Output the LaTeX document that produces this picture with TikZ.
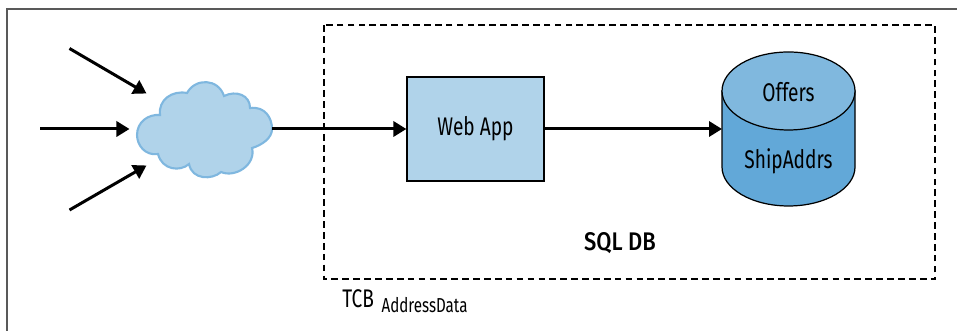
\documentclass[tikz,border=0pt]{standalone}
\usepackage{fontspec}
\setmainfont[FakeStretch=0.75]{Fira Sans}
\newfontfamily\sqlfont[FakeStretch=0.86]{Fira Sans Medium}
\usetikzlibrary{shapes.geometric,arrows.meta,positioning}
\definecolor{boxblue}{HTML}{B0D3EA}
\definecolor{cloudline}{HTML}{7FB7DF}
\definecolor{dbbody}{HTML}{62A8D8}
\definecolor{dbtop}{HTML}{80B8DE}
\tikzset{
  flow/.style={line width=1.7pt,-{Triangle[length=7.4pt,width=8.6pt]}},
  lbl/.style={font=\fontsize{14.5}{17}\selectfont,inner sep=0pt},
  appbox/.style={draw=black,line width=0.7pt,fill=boxblue,minimum width=2.74cm,minimum height=2.08cm,inner sep=0pt},
}
\begin{document}
\begin{tikzpicture}
%
\useasboundingbox (0,0) rectangle (19.14cm,6.62cm);
%
\draw[black!65,line width=1pt] (0.14,0) -- (0.14,6.44) -- (19.14,6.44);
\draw[line width=0.7pt,dash pattern=on 3.8pt off 2.4pt] (6.48,6.12) rectangle (18.7,1.04);
%
% cloud outline, in pixels of the image
\begin{scope}[x=0.02cm,y=-0.02cm,yshift=6.62cm]
\draw[draw=cloudline,line width=1.2pt,fill=boxblue]
  (160,115) .. controls (158,100) and (172,90) .. (187,93)
  .. controls (195,78) and (218,78) .. (224,96)
  .. controls (236,90) and (250,95) .. (250,108)
  .. controls (265,106) and (272,118) .. (272,129)
  .. controls (272,138) and (262,145) .. (252,148)
  .. controls (256,165) and (235,178) .. (221,172)
  .. controls (212,180) and (192,180) .. (189,164)
  .. controls (180,172) and (162,170) .. (158,154)
  .. controls (145,156) and (137,145) .. (137,135)
  .. controls (137,122) and (148,114) .. (160,115) -- cycle;
\coordinate (cloudeast) at (272,129);
\end{scope}
%
\node[appbox,lbl] (webapp) at (9.51,4.04) {Web App};
%
\node[minimum width=2.66cm,minimum height=1.52cm,inner sep=0pt,outer sep=0pt] (db) at (15.77,4.04) {};
\draw[line width=0.7pt,fill=dbbody] (db.north west) -- (14.44,3.28) arc[start angle=180,end angle=360,x radius=1.33,y radius=0.78] -- (db.north east) -- cycle;
\node[ellipse,draw=black,line width=0.7pt,fill=dbtop,minimum width=2.66cm,minimum height=1.56cm,inner sep=0pt] (dbend) at (15.77,4.8) {};
\node[lbl] (offers) at (15.77,4.78) {Offers};
\node[lbl] (shipaddrs) at (15.77,3.4) {ShipAddrs};
\node[lbl,font=\fontsize{14.5}{17}\selectfont\sqlfont] (sqldb) at (12.4,1.76) {SQL DB};
\node[lbl,anchor=base west] (tcb) at (6.84,0.46) {TCB};
\node[lbl,font=\fontsize{11.5}{13}\selectfont,right=0.14cm of tcb.base east,anchor=base west,yshift=-0.1cm] (addressdata) {AddressData};
%
\coordinate (c1) at (1.39,5.65);
\coordinate (c2) at (0.8,4.04);
\coordinate (c3) at (1.39,2.42);
\coordinate (t1) at (2.93,4.75);
\coordinate (t2) at (2.59,4.04);
\coordinate (t3) at (2.93,3.31);
%
\draw[flow] (c1) -- (t1);
\draw[flow] (c2) -- (t2);
\draw[flow] (c3) -- (t3);
\draw[flow] (cloudeast |- webapp.west) -- (webapp.west);
\draw[flow] (webapp.east) -- (db.west);
%
\end{tikzpicture}
\end{document}
